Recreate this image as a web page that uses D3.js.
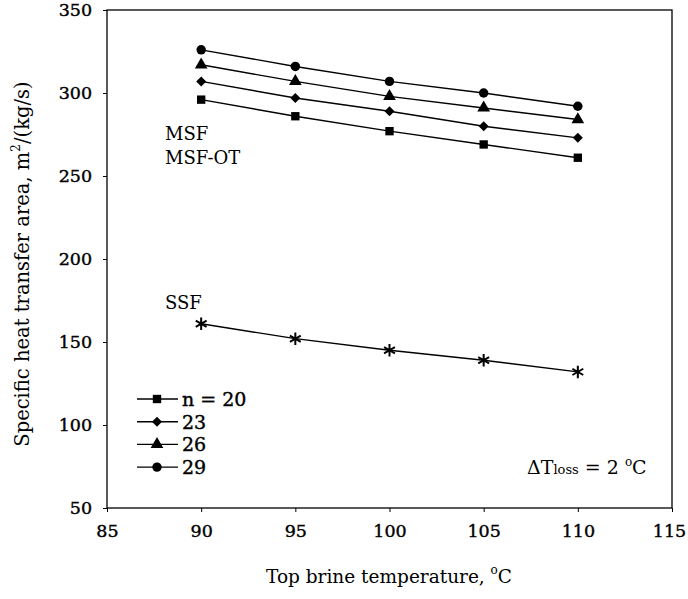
<!DOCTYPE html>
<html><head><meta charset="utf-8">
<script src="https://cdn.jsdelivr.net/npm/d3@7"></script>
<style>body{margin:0;background:#fff}svg{display:block}text{font-family:"DejaVu Serif",serif;fill:#000}</style>
</head><body>
<script>
const temps = [90, 95, 100, 105, 110];
const n20 = [296, 286, 277, 269, 261];
const n23 = [307, 297, 289, 280, 273];
const n26 = [317, 307, 298, 291, 284];
const n29 = [326, 316, 307, 300, 292];
const ssf = [161, 152, 145, 139, 132];
const xTicks = [85, 90, 95, 100, 105, 110, 115];
const yTicks = [50, 100, 150, 200, 250, 300, 350];
const legendLabels = ["n = 20", "23", "26", "29"];

const W = 688, H = 599;
const svg = d3.select("body").append("svg").attr("width", W).attr("height", H);
const x = d3.scaleLinear().domain([85, 115]).range([107, 672]);
const y = d3.scaleLinear().domain([50, 350]).range([508, 10]);

const g = svg.append("g");
g.append("rect").attr("x", 107).attr("y", 10).attr("width", 565).attr("height", 498)
  .attr("fill", "none").attr("stroke", "#000").attr("stroke-width", 1.3);

const ax = g.append("g").attr("transform", "translate(0,508)")
  .call(d3.axisBottom(x).tickValues(xTicks).tickSize(4).tickSizeOuter(0));
const ay = g.append("g").attr("transform", "translate(107,0)")
  .call(d3.axisLeft(y).tickValues(yTicks).tickSize(4).tickSizeOuter(0));
[ax, ay].forEach(a => {
  a.select(".domain").remove();
  a.selectAll("line").attr("stroke", "#000");
  a.selectAll("text").style("font-family", "DejaVu Serif, serif").style("font-size", "17.5px")
    .attr("fill", "#000").attr("stroke", "#000").attr("stroke-width", 0.4);
});
ax.selectAll("text").attr("dy", "1.25em").attr("dx", d => d === 115 ? -3 : 0);
ay.selectAll("text").attr("dx", "-0.45em");

const line = d3.line().x((d, i) => x(temps[i])).y(d => y(d));
const series = [
  {v: n20, sym: d3.symbolSquare, size: 70, rot: 0},
  {v: n23, sym: d3.symbolSquare, size: 50, rot: 45},
  {v: n26, sym: d3.symbolTriangle, size: 70, rot: 0},
  {v: n29, sym: d3.symbolCircle, size: 70, rot: 0},
];
series.forEach(s => {
  g.append("path").attr("d", line(s.v)).attr("fill", "none").attr("stroke", "#000").attr("stroke-width", 1.4);
  g.selectAll(null).data(s.v).enter().append("path")
    .attr("transform", (d, i) => `translate(${x(temps[i])},${y(d)}) rotate(${s.rot})`)
    .attr("d", d3.symbol().type(s.sym).size(s.size)).attr("fill", "#000");
});
g.append("path").attr("d", line(ssf)).attr("fill", "none").attr("stroke", "#000").attr("stroke-width", 1.4);
g.selectAll(null).data(ssf).enter().append("path")
  .attr("transform", (d, i) => `translate(${x(temps[i])},${y(d)})`)
  .attr("d", d3.symbol().type(d3.symbolAsterisk).size(110)).attr("fill", "none").attr("stroke", "#000").attr("stroke-width", 2);

// legend
series.forEach((s, i) => {
  const yy = 399 + i * 22.7;
  g.append("line").attr("x1", 137).attr("x2", 178).attr("y1", yy).attr("y2", yy).attr("stroke", "#000").attr("stroke-width", 1.4);
  g.append("path").attr("transform", `translate(157,${yy}) rotate(${s.rot})`).attr("d", d3.symbol().type(s.sym).size(s.size)).attr("fill", "#000");
  g.append("text").attr("x", 182).attr("y", yy + 7).style("font-size", "19px")
    .attr("stroke", "#000").attr("stroke-width", 0.4).text(legendLabels[i]);
});

g.append("text").attr("x", 165).attr("y", 140).style("font-size", "18px").text("MSF");
g.append("text").attr("x", 165).attr("y", 164).style("font-size", "18px").text("MSF-OT");
g.append("text").attr("x", 165).attr("y", 309).style("font-size", "18px").text("SSF");

const dt = g.append("text").attr("x", 527).attr("y", 474).style("font-size", "19px");
dt.append("tspan").text("ΔT");
dt.append("tspan").style("font-size", "13px").text("loss");
dt.append("tspan").text(" = 2 ");
dt.append("tspan").attr("dy", -8).style("font-size", "12px").text("o");
dt.append("tspan").attr("dy", 8).text("C");

const xl = svg.append("text").attr("x", 389).attr("y", 583).attr("text-anchor", "middle").style("font-size", "18.5px");
xl.append("tspan").text("Top brine temperature, ");
xl.append("tspan").attr("dy", -9).style("font-size", "12px").text("o");
xl.append("tspan").attr("dy", 9).text("C");

const yl = svg.append("text").attr("transform", "translate(29,264) rotate(-90)").attr("text-anchor", "middle").style("font-size", "19.5px");
yl.append("tspan").text("Specific heat transfer area, m");
yl.append("tspan").attr("dy", -9).style("font-size", "12px").text("2");
yl.append("tspan").attr("dy", 9).text("/(kg/s)");
</script>
</body></html>
